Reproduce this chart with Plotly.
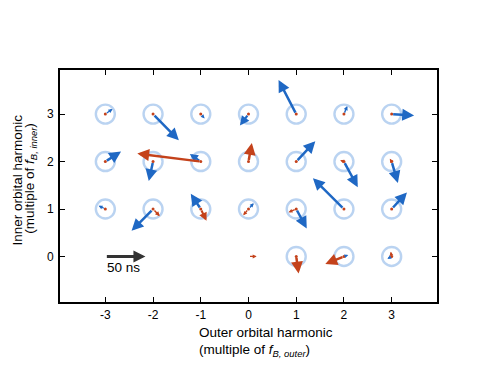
import math

import plotly.graph_objects as go

# grid of harmonics (outer, inner)
outer = [-3, -2, -1, 0, 1, 2, 3,
         -3, -2, -1, 0, 1, 2, 3,
         -3, -2, -1, 0, 1, 2, 3,
         0, 1, 2, 3]
inner = [3, 3, 3, 3, 3, 3, 3,
         2, 2, 2, 2, 2, 2, 2,
         1, 1, 1, 1, 1, 1, 1,
         0, 0, 0, 0]
has_ring = [True] * 21 + [False, True, True, True]

# blue phasor components (harmonic units)
blue_dx = [0.15, 0.54, 0.08, -0.18, -0.37, 0.07, 0.47,
           0.33, -0.09, -0.23, 0.0, 0.40, 0.29, 0.13,
           -0.14, -0.45, -0.21, 0.11, 0.22, -0.65, 0.32,
           0.0, 0.0, 0.09, -0.09]
blue_dy = [0.11, -0.55, -0.09, -0.24, 0.72, 0.17, -0.03,
           0.21, -0.41, 0.16, 0.0, 0.43, -0.54, -0.45,
           0.07, -0.46, 0.32, 0.12, -0.41, 0.65, 0.35,
           0.0, 0.0, 0.03, -0.05]

# red phasor components
red_dx = [0.0, 0.0, 0.0, 0.0, 0.0, 0.0, 0.0,
          0.0, 0.0, -1.33, 0.07, 0.0, -0.08, -0.04,
          0.0, 0.14, 0.12, -0.11, -0.16, 0.0, 0.0,
          0.17, 0.05, -0.39, -0.02]
red_dy = [0.0, 0.0, 0.0, 0.0, 0.0, 0.0, 0.0,
          0.0, 0.0, 0.17, 0.39, 0.0, 0.03, 0.06,
          0.0, -0.15, -0.25, -0.13, -0.07, 0.0, 0.0,
          0.0, -0.36, -0.16, 0.10]

x_ticks = [-3, -2, -1, 0, 1, 2, 3]
x_ticklabels = ["-3", "-2", "-1", "0", "1", "2", "3"]
y_ticks = [0, 1, 2, 3]

scale_len = 0.84  # 50 ns reference arrow
scale_label = "50 ns"

BLUE = "#1f68c4"
RED = "#c4421b"
RING = "rgba(130,175,230,0.55)"
PX_PER_UNIT = 47.5

fig = go.Figure()

ring_x = [x for x, h in zip(outer, has_ring) if h]
ring_y = [y for y, h in zip(inner, has_ring) if h]
fig.add_trace(go.Scatter(
    x=ring_x, y=ring_y, mode="markers",
    marker=dict(symbol="circle-open", size=19, color=RING, line=dict(width=2.4, color=RING)),
    hoverinfo="skip", showlegend=False,
))
fig.add_trace(go.Scatter(
    x=ring_x, y=ring_y, mode="markers",
    marker=dict(symbol="circle", size=3, color=RED),
    hoverinfo="skip", showlegend=False,
))


def add_arrow(x0, y0, dx, dy, color, width=2.5, head=0.95):
    length = math.hypot(dx, dy) * PX_PER_UNIT
    if length < 2:
        return
    f = min(1.0, length / 16)
    fig.add_annotation(
        x=x0 + dx, y=y0 + dy, ax=x0, ay=y0,
        xref="x", yref="y", axref="x", ayref="y",
        showarrow=True, arrowhead=2, arrowsize=max(0.6, head * f),
        arrowwidth=max(1.3, width * f), arrowcolor=color, standoff=0, text="",
    )


for x0, y0, dx, dy in zip(outer, inner, blue_dx, blue_dy):
    add_arrow(x0, y0, dx, dy, BLUE)
for x0, y0, dx, dy in zip(outer, inner, red_dx, red_dy):
    add_arrow(x0, y0, dx, dy, RED)

# scale arrow
add_arrow(-3, 0, scale_len, 0, "#333333", width=3, head=0.8)
fig.add_annotation(x=-3, y=-0.24, xref="x", yref="y", text=scale_label,
                   showarrow=False, xanchor="left", yanchor="middle",
                   font=dict(size=13.5, color="black"))

title_font = dict(size=13.5, color="black")
fig.add_annotation(x=0.546, y=-0.132, xref="paper", yref="paper", showarrow=False,
                   text="Outer orbital harmonic", font=title_font,
                   xanchor="center", yanchor="middle")
fig.add_annotation(x=0.515, y=-0.21, xref="paper", yref="paper", showarrow=False,
                   text="(multiple of <i>f</i><sub><i>B, outer</i></sub>)", font=title_font,
                   xanchor="center", yanchor="middle")
fig.add_annotation(x=-0.138, y=0.526, xref="paper", yref="paper", showarrow=False,
                   textangle=-90, text="Inner orbital harmonic", font=title_font,
                   xanchor="left", yanchor="middle")
fig.add_annotation(x=-0.078, y=0.534, xref="paper", yref="paper", showarrow=False,
                   textangle=-90, text="(multiple of <i>f</i><sub><i>B, inner</i></sub>)",
                   font=title_font, xanchor="center", yanchor="middle")

axis_style = dict(
    showgrid=False, zeroline=False, showline=True, linecolor="black", linewidth=2,
    mirror="ticks", ticks="inside", ticklen=5, tickwidth=1, tickcolor="black",
    tickfont=dict(size=12, color="black"),
)
fig.update_xaxes(range=[-3.95, 3.95], tickvals=x_ticks, ticktext=x_ticklabels,
                 ticklabelstandoff=1, **axis_style)
fig.update_yaxes(range=[-0.96, 3.93], tickvals=y_ticks, ticklabelstandoff=2, **axis_style)

fig.update_layout(
    width=486, height=382,
    margin=dict(l=52, r=57, t=62, b=88),
    plot_bgcolor="white", paper_bgcolor="white",
    font=dict(family="Liberation Sans, Arial, sans-serif", color="black"),
    showlegend=False,
)

fig.write_html("out.html")
